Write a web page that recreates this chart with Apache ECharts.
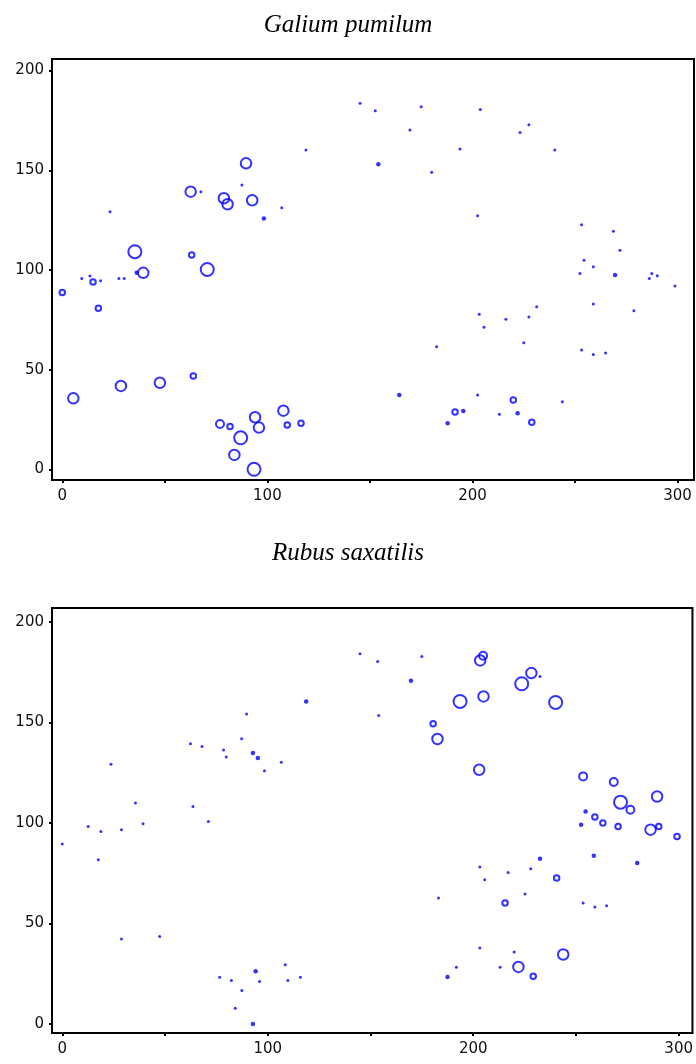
<!DOCTYPE html>
<html><head><meta charset="utf-8">
<script src="https://cdn.jsdelivr.net/npm/echarts@6/dist/echarts.min.js"></script>
<style>html,body{margin:0;padding:0;background:#fff}#c{width:696px;height:1064px}</style>
</head><body><div id="c"></div>
<script>
// [x, y, coverClass]
const galium = [
[118.8,160.2,1],[89.6,153.5,5],[62.6,139.3,5],[67.6,139.3,1],[87.6,142.6,1],[78.8,136,5],[80.6,133,5],[92.6,135,5],[98.3,125.9,2],[107,131.2,1],[23.3,129.2,1],[35.4,109.2,6],[63.1,107.5,3],[39.5,98.6,5],[36.3,98.6,2],[70.7,100.3,6],[0,88.8,3],[9.5,95.8,1],[13.5,97,1],[15,94,3],[18.7,94.6,1],[27.6,95.8,1],[30.2,95.8,1],[17.6,80.8,3],[5.4,35.7,5],[28.6,41.9,5],[47.6,43.5,5],[63.9,46.9,3],[76.9,22.8,4],[81.8,21.5,3],[87,15.9,6],[83.9,7.3,5],[93.5,0.1,6],[94,26.2,5],[95.9,21,5],[107.8,29.5,5],[109.7,22.3,3],[116.4,23.2,3],
[145.2,183.6,1],[152.6,179.9,1],[175,181.9,1],[203.8,180.5,1],[169.5,170.2,1],[223.2,169,1],[227.5,172.8,1],[193.9,160.7,1],[240.1,160.2,1],[154.1,153,2],[180.1,149,1],[202.5,127.2,1],[253.2,122.7,1],[268.7,119.5,1],[271.9,109.9,1],[254.4,104.9,1],[258.9,101.6,1],[252.4,98.3,1],[269.5,97.5,2],[287.4,98.3,1],[286.2,95.8,1],[290.1,97.1,1],[298.7,92,1],[258.9,83,1],[278.7,79.6,1],[231.3,81.6,1],[227.5,76.4,1],[216.3,75.3,1],[203.3,77.8,1],[205.6,71.3,1],[225,63.6,1],[182.5,61.6,1],[253.2,59.9,1],[258.9,57.7,1],[264.9,58.4,1],[164.3,37.3,2],[202.5,37.3,1],[219.9,34.8,3],[243.8,34,1],[191.5,28.8,3],[195.5,29.3,2],[213.1,27.7,1],[222,28.2,2],[187.9,23.2,2],[228.9,23.7,3]
];
const rubus = [
[118.7,160.5,2],[89.7,154.2,1],[62.4,139.5,1],[68,138.1,1],[87.3,141.9,1],[78.5,136.3,1],[79.8,132.8,1],[92.8,134.8,2],[95.2,132.3,2],[98.4,126,1],[106.6,130.3,1],[23.7,129.2,1],[0,89.6,1],[12.6,98.3,1],[18.8,95.8,1],[17.5,81.7,1],[28.8,96.7,1],[35.6,110,1],[39.3,99.7,1],[63.6,108.2,1],[71.1,100.8,1],[28.8,42.3,1],[47.4,43.6,1],[76.6,23.2,1],[82.3,21.7,1],[87.4,16.7,1],[84.2,7.8,1],[92.8,0,2],[94.1,26.2,2],[96,21.2,1],[108.5,29.5,1],[109.8,21.7,1],[115.9,23.2,1],
[144.9,184.2,1],[153.5,180.4,1],[175,182.9,1],[204.8,183.2,4],[203.4,180.9,5],[169.7,170.8,2],[223.6,169.3,6],[228.3,174.6,5],[232.5,172.9,1],[193.6,160.5,6],[205,163,5],[240.1,160,6],[154,153.5,1],[180.5,149.4,3],[182.6,141.8,5],[202.9,126.5,5],[253.5,123.2,4],[268.4,120.4,4],[289.5,113.2,5],[271.7,110.4,6],[276.5,106.6,4],[254.7,105.8,2],[259.2,103,3],[263.1,100,3],[252.5,99.2,2],[270.5,98.3,3],[286.3,96.7,5],[290.3,98.3,3],[299.2,93.3,3],[258.7,83.7,2],[232.5,82.2,2],[228,77.3,1],[203.2,78.1,1],[217,75.4,1],[205.6,71.8,1],[240.6,72.6,3],[279.8,80.1,2],[225.2,64.7,1],[183.1,62.7,1],[215.5,60.2,3],[253.5,60.2,1],[259.2,58.2,1],[264.9,58.9,1],[203.2,37.8,1],[219.9,35.8,1],[243.8,34.6,5],[191.8,28.2,1],[213.1,28.2,1],[222,28.4,5],[187.5,23.4,2],[229.2,23.7,3]
];
const panelTitles = ['Galium pumilum', 'Rubus saxatilis'];
const xTicks = [0, 50, 100, 150, 200, 250, 300];
const xLabels = [0, 100, 200, 300];
const yTicks = [0, 50, 100, 150, 200];

const BLUE = '#0000ff';
const sizeOf = [0, 3, 4.5, 5.5, 8, 10.5, 13];
function toItems(arr) {
  return arr.map(p => {
    const c = p[2];
    const filled = c <= 2;
    return {
      value: [p[0], p[1], c],
      symbolSize: sizeOf[c],
      itemStyle: filled
        ? { color: BLUE, borderWidth: 0 }
        : { color: 'rgba(0,0,0,0)', borderColor: BLUE, borderWidth: 2 }
    };
  });
}
const labelFont = { fontFamily: 'DejaVu Sans', fontSize: 15, color: '#111' };
function xAxis(gi, max) {
  return {
    type: 'value', gridIndex: gi, min: -5, max: max,
    axisLine: { show: true, onZero: false, lineStyle: { color: '#000', width: 2 } },
    axisTick: { show: true, length: 3, lineStyle: { color: '#000', width: 2 }, customValues: xTicks },
    axisLabel: Object.assign({ margin: 9, customValues: xLabels }, labelFont),
    splitLine: { show: false }
  };
}
function yAxis(gi, min, max) {
  return {
    type: 'value', gridIndex: gi, min: min, max: max,
    axisLine: { show: true, onZero: false, lineStyle: { color: '#000', width: 2 } },
    axisTick: { show: true, length: 3, lineStyle: { color: '#000', width: 2 }, customValues: yTicks },
    axisLabel: Object.assign({ margin: 8, customValues: yTicks }, labelFont),
    splitLine: { show: false }
  };
}
const titleStyle = { fontFamily: 'Liberation Serif', fontStyle: 'italic', fontWeight: 'normal', fontSize: 25, color: '#000' };
const chart = echarts.init(document.getElementById('c'), null, { renderer: 'canvas' });
chart.setOption({
  animation: false,
  backgroundColor: '#fff',
  title: [
    { text: panelTitles[0], left: 'center', top: 8, textStyle: titleStyle },
    { text: panelTitles[1], left: 'center', top: 536, textStyle: titleStyle }
  ],
  grid: [
    { left: 52, top: 59, width: 642, height: 421, show: true, borderColor: '#000', borderWidth: 2, backgroundColor: 'transparent' },
    { left: 52, top: 608, width: 642, height: 425, show: true, borderColor: '#000', borderWidth: 2, backgroundColor: 'transparent' }
  ],
  xAxis: [xAxis(0, 308), xAxis(1, 306.7)],
  yAxis: [yAxis(0, -5.26, 205.8), yAxis(1, -4.48, 207)],
  series: [
    { type: 'scatter', xAxisIndex: 0, yAxisIndex: 0, symbol: 'circle', data: toItems(galium) },
    { type: 'scatter', xAxisIndex: 1, yAxisIndex: 1, symbol: 'circle', data: toItems(rubus) }
  ]
});
</script>
</body></html>
